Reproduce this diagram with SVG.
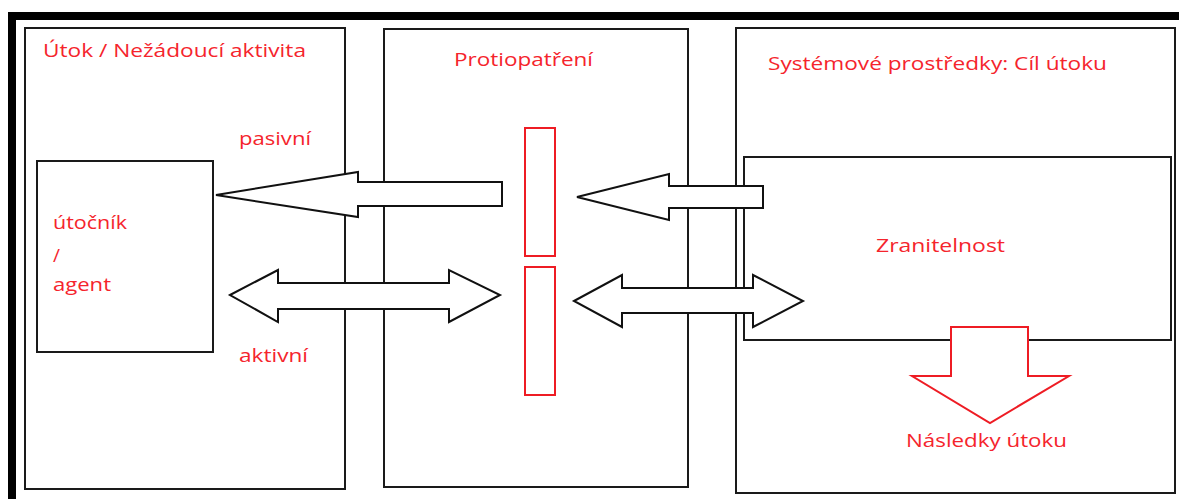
<svg xmlns="http://www.w3.org/2000/svg" width="1179" height="499" viewBox="0 0 1179 499">
  <style>
    .box { fill: #ffffff; stroke: #1a1a1a; stroke-width: 2; }
    .guard { fill: #ffffff; stroke: #ee1c24; stroke-width: 2; }
    .arrow { fill: #ffffff; stroke: #111111; stroke-width: 2; stroke-linejoin: miter; }
    .arrow-red { fill: #ffffff; stroke: #ee1c24; stroke-width: 2; stroke-linejoin: miter; }
    .lbl { font-family: "Open Sans", "Noto Sans", "Liberation Sans", sans-serif; font-size: 19px; fill: #f5242c; }
  </style>
  <rect x="0" y="0" width="1179" height="499" fill="#ffffff"/>

  <!-- heavy frame along the top and left edge -->
  <path d="M 12 499 V 16 H 1179" fill="none" stroke="#000000" stroke-width="8"/>

  <!-- attack side -->
  <g id="attack">
    <rect class="box" x="25" y="28" width="320" height="461"/>
    <text class="lbl" x="43" y="57" textLength="263" lengthAdjust="spacingAndGlyphs">Útok / Nežádoucí aktivita</text>
  </g>

  <!-- countermeasures -->
  <g id="countermeasures">
    <rect class="box" x="384" y="29" width="304" height="458"/>
    <text class="lbl" x="454" y="66" textLength="139" lengthAdjust="spacingAndGlyphs">Protiopatření</text>
  </g>

  <!-- system resources -->
  <g id="resources">
    <rect class="box" x="736" y="28" width="439" height="465"/>
    <text class="lbl" x="768" y="70" textLength="339" lengthAdjust="spacingAndGlyphs">Systémové prostředky: Cíl útoku</text>
  </g>

  <!-- attacker / agent -->
  <g id="agent">
    <rect class="box" x="37" y="161" width="176" height="191"/>
    <text class="lbl" x="53" y="229" textLength="74" lengthAdjust="spacingAndGlyphs">útočník</text>
    <text class="lbl" x="53" y="262">/</text>
    <text class="lbl" x="53" y="291" textLength="58" lengthAdjust="spacingAndGlyphs">agent</text>
  </g>

  <!-- vulnerability -->
  <g id="vulnerability">
    <rect class="box" x="744" y="157" width="427" height="183"/>
    <text class="lbl" x="876" y="252" textLength="129" lengthAdjust="spacingAndGlyphs">Zranitelnost</text>
  </g>

  <!-- countermeasure barriers -->
  <g id="barrier-upper">
    <rect class="guard" x="525" y="128" width="30" height="128"/>
  </g>
  <g id="barrier-lower">
    <rect class="guard" x="525" y="267" width="30" height="128"/>
  </g>

  <!-- block arrows -->
  <g id="connectors">
    <!-- passive: from countermeasures back to the agent -->
    <polygon class="arrow" points="502,182 358,182 358,172 216,195 358,217 358,206 502,206"/>
    <!-- active: agent <-> countermeasures -->
    <polygon class="arrow" points="230,295 278,270 278,283 449,283 449,270 500,295 449,322 449,309 278,309 278,322"/>
    <!-- passive: from vulnerability to countermeasures -->
    <polygon class="arrow" points="763,186 669,186 669,174 577,197 669,220 669,208 763,208"/>
    <!-- active: countermeasures <-> vulnerability -->
    <polygon class="arrow" points="574,301 622,275 622,288 753,288 753,275 803,301 753,327 753,313 622,313 622,327"/>
    <!-- consequences -->
    <polygon class="arrow-red" points="951,327 1028,327 1028,376 1069,376 990,423 912,376 951,376"/>
  </g>

  <text class="lbl" x="239" y="145" textLength="72" lengthAdjust="spacingAndGlyphs">pasivní</text>
  <text class="lbl" x="239" y="362" textLength="69" lengthAdjust="spacingAndGlyphs">aktivní</text>
  <text class="lbl" x="906" y="447" textLength="161" lengthAdjust="spacingAndGlyphs">Následky útoku</text>
</svg>
